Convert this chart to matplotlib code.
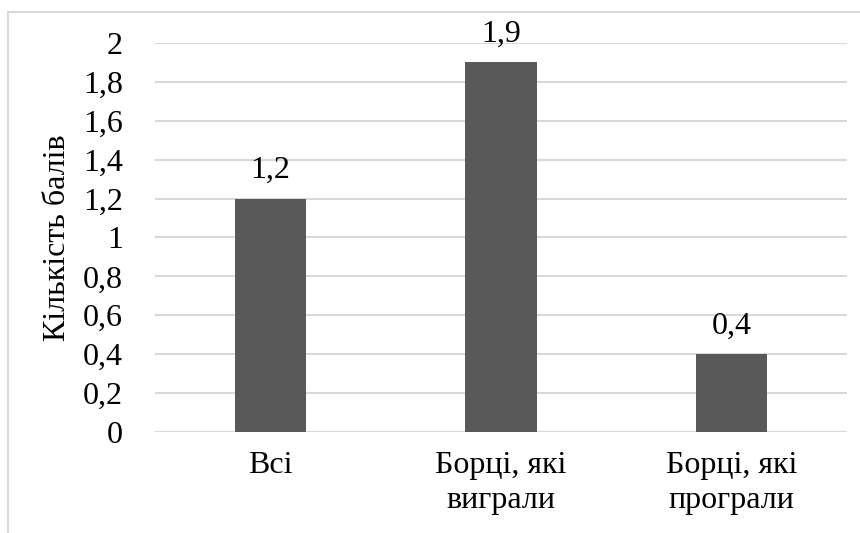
import matplotlib.pyplot as plt
from matplotlib.ticker import FuncFormatter
from matplotlib.lines import Line2D

# data
categories = ['Всі', 'Борці, які\nвиграли', 'Борці, які\nпрограли']
scores = [1.2, 1.9, 0.4]
yticks = [0, 0.2, 0.4, 0.6, 0.8, 1.0, 1.2, 1.4, 1.6, 1.8, 2.0]

plt.rcParams['font.family'] = ['Liberation Serif', 'DejaVu Serif']
FS = 23

def comma(v, pos=None):
    s = ('%.1f' % v).rstrip('0').rstrip('.')
    return s.replace('.', ',')

fig = plt.figure(figsize=(8.6, 5.33), dpi=100)
ax = fig.add_axes([155 / 860, 1 - 432 / 533, 692 / 860, 389 / 533])

x = range(len(categories))
ax.bar(x, scores, width=0.31, color='#595959', zorder=3)
for i, v in zip(x, scores):
    ax.text(i, v + 0.07, comma(v), ha='center', va='bottom', fontsize=FS)

ax.set_xlim(-0.5, len(categories) - 0.5)
ax.set_ylim(0, 2)
ax.set_yticks(yticks)
ax.yaxis.set_major_formatter(FuncFormatter(comma))
ax.grid(axis='y', color='#d9d9d9', linewidth=1.5, zorder=0)
ax.set_xticks(list(x))
ax.set_xticklabels(categories, fontsize=FS, linespacing=1.25)
ax.tick_params(axis='y', labelsize=FS, length=0, pad=23)
ax.tick_params(axis='x', length=0, pad=14)
for s in ax.spines.values():
    s.set_visible(False)
ax.set_ylabel('Кількість балів', fontsize=FS)
ax.yaxis.set_label_coords(-0.12, 0.5)

# outer chart border (top and left visible)
fig.add_artist(Line2D([8 / 860, 8 / 860], [0, 1 - 12 / 533], color='#d9d9d9', lw=1.5))
fig.add_artist(Line2D([8 / 860, 1], [1 - 12 / 533, 1 - 12 / 533], color='#d9d9d9', lw=1.5))

fig.savefig('out.png', dpi=100)
